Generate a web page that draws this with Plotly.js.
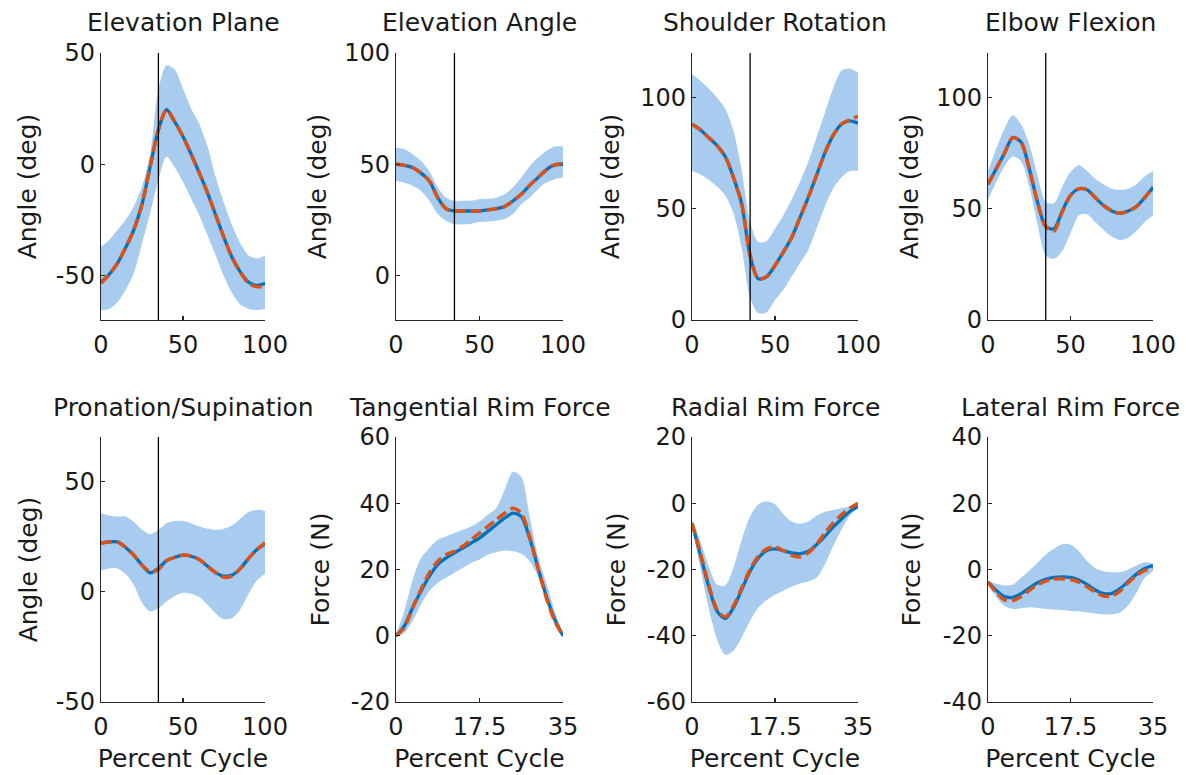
<!DOCTYPE html>
<html>
<head>
<meta charset="utf-8">
<script src="https://cdn.plot.ly/plotly-3.0.1.min.js"></script>
<style>
  html, body { margin: 0; padding: 0; background: #fff; }
  #chart { width: 1186px; height: 775px; }
</style>
</head>
<body>
<div id="chart"></div>
<script>
// ---------------- DATA ----------------
const pctCycle  = [0,5,10,15,20,25,30,35,40,45,50,55,60,65,70,75,80,85,90,95,100];
const pushCycle = [0,1.75,3.5,5.25,7,8.75,10.5,12.25,14,15.75,17.5,19.25,21,22.75,24.5,26.25,28,29.75,31.5,33.25,35];
const pushEndPct = 35;   // vertical marker (end of push phase), percent cycle

const panelTitles = ["Elevation Plane","Elevation Angle","Shoulder Rotation","Elbow Flexion",
                     "Pronation/Supination","Tangential Rim Force","Radial Rim Force","Lateral Rim Force"];
const angleTicks = { elevPlane:[-50,0,50], elevAngle:[0,50,100], shoulderRot:[0,50,100], elbowFlex:[0,50,100], pronSup:[-50,0,50] };
const forceTicks = { tangential:[-20,0,20,40,60], radial:[-60,-40,-20,0,20], lateral:[-40,-20,0,20,40] };
const pctTicks = [0,50,100];
const pushTicks = [0,17.5,35];

// Elevation Plane (deg)
const elevPlaneMean  = [-53,-49.5,-44.5,-37.5,-29.5,-18,-1,15.5,24.5,19,12.5,4.5,-4,-13,-23,-33,-42,-48.5,-53,-54.5,-53.5];
const elevPlaneModel = [-53.5,-49.5,-44.5,-37.5,-29.5,-18,-1,15.5,24.5,19,12.5,4.5,-4,-13,-23,-33,-42,-48.5,-53.5,-55,-55];
const elevPlaneUpper = [-37,-34,-29.5,-25,-19,-10,5,33.5,44.5,42.5,34,25,18,8,-6,-17.5,-27.5,-35.5,-41,-42.3,-41];
const elevPlaneLower = [-65.5,-65,-62,-56.5,-49,-35.5,-22,-7,3.5,-1.5,-8,-15.5,-23,-32,-41,-50.5,-58,-63,-65,-65.5,-65];

// Elevation Angle (deg)
const elevAngleMean  = [50,49.5,48.5,46,42.5,35,30,29,29,29,29,29.5,30,31,33.5,36.5,40.5,44,47.5,49.7,50];
const elevAngleModel = [50,49.5,48.5,46,42.5,35,30,29,29,29,29,29.5,30,31,33.5,36.5,40.5,44,47.5,49.7,50.3];
const elevAngleUpper = [57.5,56.7,54.5,51.5,47,39.5,35,33.6,33.6,33.6,34.3,34.5,35,36.5,39.5,44,49,53,56,58,58];
const elevAngleLower = [42.5,41.8,40.3,38,33.6,27.6,24.6,23,23,23.3,24,24.3,24.6,25.4,27.6,32,35,38.8,41.8,43.3,44];

// Shoulder Rotation (deg)
const shoulderRotMean  = [88,85.5,82,78.5,73.5,64,52,29,18.5,19.5,24.5,30.5,37,46,55,65,75,83,88,89.5,88.5];
const shoulderRotModel = [88,85.5,82,78.5,73.5,64,52,29,18.5,19.5,24.5,30.5,37,46,55,65,75,83,88,90,91.5];
const shoulderRotUpper = [110.6,107.5,104,100,95,85,67,44,35,35.5,41,47,54,62,71,82,93,104,112,113,111];
const shoulderRotLower = [67,65.5,63,60,56,48,32,10,3,3.5,9,13.5,19.5,25.5,31.5,41,51,59,64,67,67];

// Elbow Flexion (deg)
const elbowFlexMean  = [61,68,75,82,80,68,53,42,41,49,56,59,58.5,55,51.5,49,48,49,51,55,59.5];
const elbowFlexModel = [61,68,75,82,80,68,53,42,40,48.5,56,59,58.5,55,51.5,49,48,49,51,55,60];
const elbowFlexUpper = [67,77,86,92,88,79,65,53,52.5,60,66.5,69.5,67,63.5,61,59,58.5,59,61,64.5,67];
const elbowFlexLower = [54,62,69,73.5,71.5,60,43,29,27.5,31,39,47,47.5,44,40.5,37.5,36,37,40,44,47];

// Pronation/Supination (deg)
const pronSupMean  = [22,22.5,22.5,20,16.5,12,8.5,10.5,14,15.5,16.5,16,14.5,11.5,8.5,7,7.5,10.5,15,19,21.5];
const pronSupModel = [22,22.5,22.5,20,16.5,12,9,10,14,15.5,16.5,16,14.5,11.5,8.5,6.5,7,10.5,15,19,22];
const pronSupUpper = [35.5,34.5,34,34,31.5,28,26,28,31,32,32,31,29.5,28.5,28,28.5,30,33,36,37,36.5];
const pronSupLower = [9.5,10.5,10.5,8,3,-5,-9,-7.5,-4.5,-2,-0.5,-1,-2.5,-6,-10,-12.5,-12,-8,-1,5,8];

// Tangential Rim Force (N)
const tangentialMean  = [0,3,8.5,13.5,18,21.5,23.5,25,26.5,28,29.5,31.5,33.5,35.5,37,36,29.5,20.5,12,5,0];
const tangentialModel = [0,2.5,8.5,14,19,22.5,24.5,25.5,27,29,31,33,35,37,38.5,37,30,20.5,11.5,4.5,0];
const tangentialUpper = [0.5,7.5,17,23.5,26.5,29,30,31,32,33,34.5,36.5,38.5,44,49.5,48,36,24,16,7.5,0.5];
const tangentialLower = [-0.5,0.8,4.5,9.5,13.5,16,17.5,19,20.5,22,23,24.5,25.2,25.7,25.5,24.8,22.5,18,11,4,-0.5];

// Radial Rim Force (N)
const radialMean  = [-6,-15.5,-25,-32.5,-34.8,-31.5,-26,-20.5,-16.5,-14.3,-13.8,-14.3,-15,-15.2,-14.5,-12.5,-10,-7.2,-4.8,-2.5,-1];
const radialModel = [-6,-15,-24.5,-32,-34.3,-31,-25.5,-20,-16,-13.8,-13.2,-14.3,-15.7,-16.2,-15,-12.5,-9,-6,-3.5,-1.5,0];
const radialUpper = [-5,-11.3,-19,-24.5,-24.8,-19.4,-11,-4,-0.3,0.5,-0.3,-3.3,-5.5,-6.2,-5.5,-3.8,-2.6,-2,-1.5,-1,-0.5];
const radialLower = [-7,-19.4,-31.5,-41,-45.7,-44.5,-40.5,-35.5,-31.5,-29.2,-27.6,-26.4,-25.2,-24.2,-23.6,-22.5,-18.5,-13,-8,-3.8,-1];

// Lateral Rim Force (N)
const lateralMean  = [-3.8,-6.3,-8.2,-8.4,-7.3,-5.6,-4,-3,-2.4,-2.2,-2.4,-3.2,-4.5,-6.2,-7.3,-7.2,-5.8,-3.6,-1.4,0.3,1.2];
const lateralModel = [-3.8,-7,-9.2,-9.4,-8.2,-6.3,-4.6,-3.5,-2.9,-2.8,-3,-3.8,-5.2,-6.8,-8,-8,-6.5,-4,-1.8,-0.3,0.2];
const lateralUpper = [-3.3,-4.3,-4.8,-4.6,-2.5,-0.3,2,4.5,6.3,7.6,7.5,5.6,2.6,0.4,-0.5,-0.8,-0.8,0,1.2,2.2,1.8];
const lateralLower = [-4.3,-8.3,-11,-11.9,-11.7,-11.4,-11.6,-11.9,-12.1,-12.3,-12.5,-12.6,-12.9,-13.3,-13.6,-13.6,-13,-10.8,-7,-2.5,-0.5];

// ---------------- PANELS ----------------
const panels = [
  {x:pctCycle,  mean:elevPlaneMean,  model:elevPlaneModel,  up:elevPlaneUpper,  lo:elevPlaneLower,  yr:[-70,50], yt:angleTicks.elevPlane,   ytitle:"Angle (deg)", xt:pctTicks,  xr:[0,100], marker:true},
  {x:pctCycle,  mean:elevAngleMean,  model:elevAngleModel,  up:elevAngleUpper,  lo:elevAngleLower,  yr:[-20,100], yt:angleTicks.elevAngle,  ytitle:"Angle (deg)", xt:pctTicks,  xr:[0,100], marker:true},
  {x:pctCycle,  mean:shoulderRotMean,model:shoulderRotModel,up:shoulderRotUpper,lo:shoulderRotLower,yr:[0,120],  yt:angleTicks.shoulderRot,ytitle:"Angle (deg)", xt:pctTicks,  xr:[0,100], marker:true},
  {x:pctCycle,  mean:elbowFlexMean,  model:elbowFlexModel,  up:elbowFlexUpper,  lo:elbowFlexLower,  yr:[0,120],  yt:angleTicks.elbowFlex,  ytitle:"Angle (deg)", xt:pctTicks,  xr:[0,100], marker:true},
  {x:pctCycle,  mean:pronSupMean,    model:pronSupModel,    up:pronSupUpper,    lo:pronSupLower,    yr:[-50,70], yt:angleTicks.pronSup,    ytitle:"Angle (deg)", xt:pctTicks,  xr:[0,100], marker:true},
  {x:pushCycle, mean:tangentialMean, model:tangentialModel, up:tangentialUpper, lo:tangentialLower, yr:[-20,60], yt:forceTicks.tangential, ytitle:"Force (N)",   xt:pushTicks, xr:[0,35],  marker:false},
  {x:pushCycle, mean:radialMean,     model:radialModel,     up:radialUpper,     lo:radialLower,     yr:[-60,20], yt:forceTicks.radial,     ytitle:"Force (N)",   xt:pushTicks, xr:[0,35],  marker:false},
  {x:pushCycle, mean:lateralMean,    model:lateralModel,    up:lateralUpper,    lo:lateralLower,    yr:[-40,40], yt:forceTicks.lateral,    ytitle:"Force (N)",   xt:pushTicks, xr:[0,35],  marker:false}
];

// ---------------- LAYOUT GEOMETRY (pixels) ----------------
const W = 1186, H = 775;
const colPx = [[101,265],[396,563],[692,858],[988,1153]];
const rowPx = [[53,320],[437,702]];
const titleYPx = [22, 407];
const yTitleStandoff = [12, 10, 13, 10, 10.5, 14, 14, 15];

const FONT = "DejaVu Sans, Liberation Sans, Arial, sans-serif";
const TXT = "#1a1a1a";
const BAND = "rgb(168,203,240)";
const BLUE = "#0072BD";
const ORANGE = "#D95319";

const traces = [];
const layout = {
  width: W, height: H, autosize: false,
  margin: {l:0, r:0, t:0, b:0},
  paper_bgcolor: "#fff", plot_bgcolor: "rgba(0,0,0,0)",
  showlegend: false,
  font: {family: FONT, color: TXT},
  annotations: [], shapes: []
};

panels.forEach((p, i) => {
  const n = i + 1;
  const xa = n === 1 ? "x" : "x" + n;
  const ya = n === 1 ? "y" : "y" + n;
  const col = i % 4, row = Math.floor(i / 4);
  const c = colPx[col], r = rowPx[row];

  traces.push({x:p.x, y:p.lo, xaxis:xa, yaxis:ya, type:"scatter", mode:"lines",
               line:{width:0, color:BAND, shape:"spline", smoothing:0.8}, hoverinfo:"skip"});
  traces.push({x:p.x, y:p.up, xaxis:xa, yaxis:ya, type:"scatter", mode:"lines", fill:"tonexty", fillcolor:BAND,
               line:{width:0, color:BAND, shape:"spline", smoothing:0.8}, hoverinfo:"skip"});
  traces.push({x:p.x, y:p.mean, xaxis:xa, yaxis:ya, type:"scatter", mode:"lines",
               line:{width:3.3, color:BLUE, shape:"spline", smoothing:0.8}});
  traces.push({x:p.x, y:p.model, xaxis:xa, yaxis:ya, type:"scatter", mode:"lines",
               line:{width:3.5, color:ORANGE, dash:"11px,5px", shape:"spline", smoothing:0.8}});

  const axCommon = {
    showline:true, linecolor:"#262626", linewidth:1.2, mirror:false,
    ticks:"inside", ticklen:4, tickwidth:1.2, tickcolor:"#262626",
    showgrid:false, zeroline:false, fixedrange:true,
    tickfont:{family:FONT, size:24, color:TXT}
  };
  layout["xaxis" + (n === 1 ? "" : n)] = Object.assign({}, axCommon, {
    domain:[c[0]/W, c[1]/W], anchor:ya, range:p.xr, tickmode:"array", tickvals:p.xt,
    ticktext:p.xt.map(v => String(v)), ticklabelstandoff:3,
    title: row === 1 ? {text:"Percent Cycle", font:{family:FONT, size:25, color:TXT}, standoff:9} : {text:""}
  });
  layout["yaxis" + (n === 1 ? "" : n)] = Object.assign({}, axCommon, {
    domain:[(H - r[1])/H, (H - r[0])/H], anchor:xa, range:p.yr, tickmode:"array", tickvals:p.yt,
    ticktext:p.yt.map(v => String(v)),
    title:{text:p.ytitle, font:{family:FONT, size:25, color:TXT}, standoff:yTitleStandoff[i]}
  });

  layout.annotations.push({
    text: panelTitles[i], xref:"paper", yref:"paper",
    x:(c[0] + c[1]) / 2 / W, y:(H - titleYPx[row]) / H,
    xanchor:"center", yanchor:"middle", showarrow:false,
    font:{family:FONT, size:25, color:TXT}
  });

  if (p.marker) {
    layout.shapes.push({type:"line", xref:xa, yref:ya + " domain", x0:pushEndPct, x1:pushEndPct, y0:0, y1:1,
                        line:{color:"#000", width:1.3}, layer:"above"});
  }
});

Plotly.newPlot("chart", traces, layout, {staticPlot:true, displayModeBar:false});
</script>
</body>
</html>
